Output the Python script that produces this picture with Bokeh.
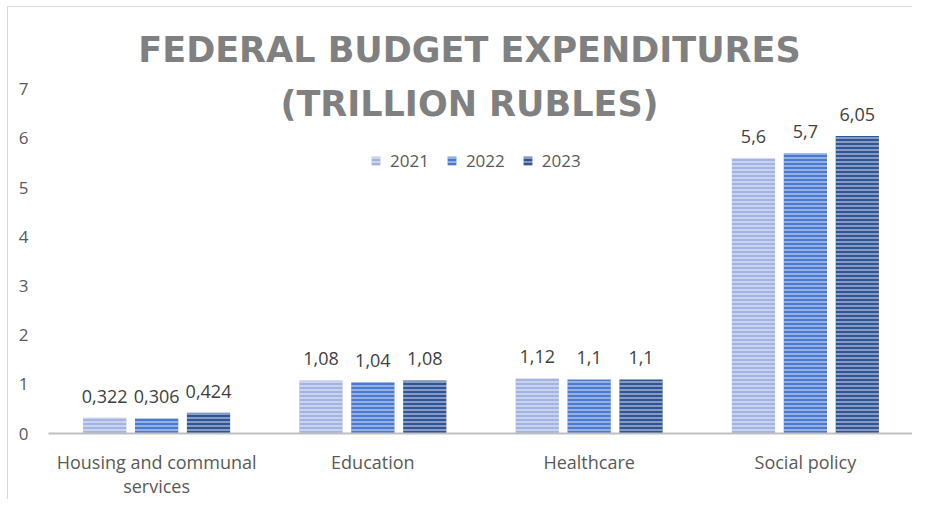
from bokeh.plotting import figure
from bokeh.models import (FactorRange, Range1d, ColumnDataSource, Legend, LegendItem,
                          FixedTicker, Label)
from bokeh.transform import dodge
from bokeh.core.properties import value
from bokeh.embed import file_html
from bokeh.resources import INLINE

categories = ["Housing and communal\nservices", "Education", "Healthcare", "Social policy"]
years = ["2021", "2022", "2023"]
v2021 = [0.322, 1.08, 1.12, 5.6]
v2022 = [0.306, 1.04, 1.1, 5.7]
v2023 = [0.424, 1.08, 1.1, 6.05]
y_ticks = [0, 1, 2, 3, 4, 5, 6, 7]
title_line1 = "FEDERAL BUDGET EXPENDITURES"
title_line2 = "(TRILLION RUBLES)"

def fmt(v):
    return str(v).replace(".", ",")

src = ColumnDataSource(dict(
    cat=categories,
    v2021=v2021, v2022=v2022, v2023=v2023,
    l2021=[fmt(v) for v in v2021],
    l2022=[fmt(v) for v in v2022],
    l2023=[fmt(v) for v in v2023],
))

FONT = "Open Sans"
# layout: frame spans 345 px for 0..7, and extends upward to host the title
px_per_unit = 345 / 7
frame_h = 423
p = figure(width=905, height=493, x_range=FactorRange(*categories, range_padding=0),
           y_range=Range1d(0, frame_h / px_per_unit), output_backend="svg",
           toolbar_location=None, title=None,
           min_border_left=40, min_border_right=0, min_border_top=4, min_border_bottom=66,
           styles={"margin-left": "7px", "margin-top": "6px",
                   "border-left": "1px solid #d9d9d9", "border-top": "1px solid #d9d9d9"})
p.outline_line_color = None
p.xgrid.visible = False
p.ygrid.visible = False

colors = ["#a3b4e2", "#4a7ad0", "#2f5597"]
offsets = [-0.24, 0.0, 0.24]
renderers = []
for yr, col, off in zip(years, colors, offsets):
    r = p.vbar(x=dodge("cat", off, range=p.x_range), top="v" + yr, width=0.2, source=src,
               fill_color=col, line_color=None,
               hatch_pattern="horizontal_line", hatch_scale=4, hatch_weight=1.5,
               hatch_color="white", hatch_alpha=0.55)
    renderers.append(r)
    p.text(x=dodge("cat", off, range=p.x_range), y="v" + yr, text="l" + yr, source=src,
           text_align="center", text_baseline="bottom", y_offset=-15,
           text_font=value(FONT), text_font_size="18px", text_color="#404040")

legend = Legend(items=[LegendItem(label=yr, renderers=[r]) for yr, r in zip(years, renderers)],
                orientation="horizontal", location=(322, 261), padding=0, margin=0,
                border_line_color=None, background_fill_alpha=0,
                glyph_width=11, glyph_height=11, label_standoff=9, spacing=17,
                label_text_font=FONT, label_text_font_size="17px", label_text_color="#595959")
p.add_layout(legend, "center")

p.xaxis.axis_line_color = "#bfbfbf"
p.xaxis.axis_line_width = 2
p.xaxis.major_tick_line_color = None
p.xaxis.minor_tick_line_color = None
p.xaxis.major_label_text_font = FONT
p.xaxis.major_label_text_font_size = "18px"
p.xaxis.major_label_text_color = "#595959"
p.xaxis.major_label_text_line_height = 1.0
p.xaxis.major_label_standoff = 10

p.yaxis.ticker = FixedTicker(ticks=y_ticks)
p.yaxis.axis_line_color = None
p.yaxis.major_tick_line_color = None
p.yaxis.minor_tick_line_color = None
p.yaxis.major_label_text_font = FONT
p.yaxis.major_label_text_font_size = "17px"
p.yaxis.major_label_text_color = "#595959"
p.yaxis.major_label_standoff = 14

for txt, yy in [(title_line1, 384), (title_line2, 330)]:
    p.add_layout(Label(x=421, y=yy, x_units="screen", y_units="screen", text=txt,
                       text_align="center", text_baseline="middle",
                       text_font="DejaVu Sans", text_font_style="bold", text_font_size="35px",
                       text_color="#808080"))

open("out.html", "w").write(file_html(p, INLINE))
